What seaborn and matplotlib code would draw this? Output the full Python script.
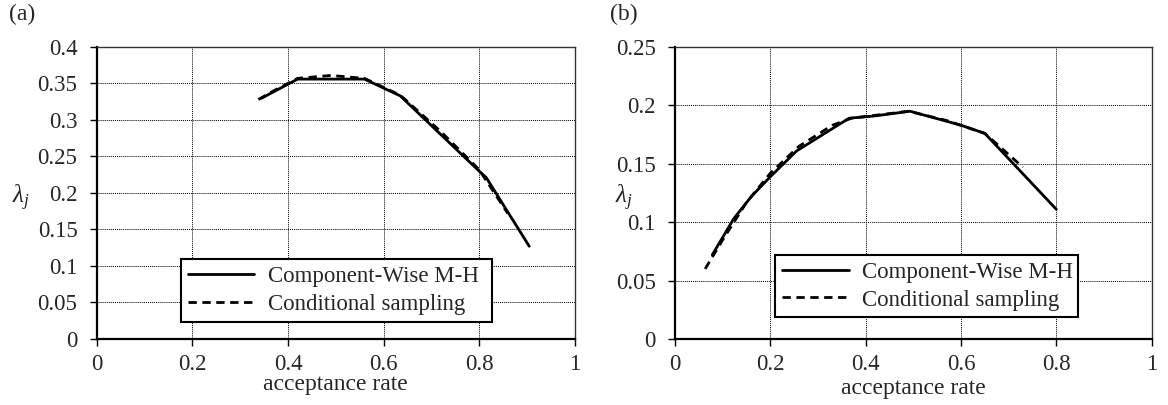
import matplotlib
matplotlib.use("Agg")
import matplotlib.pyplot as plt
import seaborn as sns
import pandas as pd

# Panel (a)
a_cw_rate = [0.345, 0.42, 0.56, 0.635, 0.80, 0.815, 0.905]
a_cw_lam = [0.330, 0.356, 0.356, 0.333, 0.230, 0.221, 0.127]
a_cs_rate = [0.338, 0.37, 0.42, 0.49, 0.56, 0.635, 0.72, 0.80, 0.86]
a_cs_lam = [0.328, 0.340, 0.357, 0.361, 0.357, 0.334, 0.284, 0.232, 0.172]

# Panel (b)
b_cw_rate = [0.078, 0.123, 0.16, 0.20, 0.255, 0.365, 0.42, 0.493, 0.60, 0.65, 0.80]
b_cw_lam = [0.072, 0.103, 0.122, 0.139, 0.161, 0.189, 0.191, 0.195, 0.183, 0.176, 0.111]
b_cs_rate = [0.063, 0.10, 0.15, 0.20, 0.26, 0.33, 0.37, 0.45, 0.49, 0.57, 0.65, 0.73]
b_cs_lam = [0.060, 0.085, 0.117, 0.142, 0.165, 0.183, 0.189, 0.193, 0.195, 0.187, 0.176, 0.147]

series_names = ["Component-Wise M-H", "Conditional sampling"]
x_ticks = [0, 0.2, 0.4, 0.6, 0.8, 1]
x_tick_labels = ["0", "0.2", "0.4", "0.6", "0.8", "1"]
a_y_ticks = [0, 0.05, 0.1, 0.15, 0.2, 0.25, 0.3, 0.35, 0.4]
a_y_tick_labels = ["0", "0.05", "0.1", "0.15", "0.2", "0.25", "0.3", "0.35", "0.4"]
b_y_ticks = [0, 0.05, 0.1, 0.15, 0.2, 0.25]
b_y_tick_labels = ["0", "0.05", "0.1", "0.15", "0.2", "0.25"]

sns.set_theme(style="white")
plt.rcParams["font.family"] = ["Liberation Serif", "DejaVu Serif"]
plt.rcParams["mathtext.fontset"] = "custom"
plt.rcParams["mathtext.it"] = "Liberation Serif:italic"
plt.rcParams["mathtext.rm"] = "Liberation Serif"

FS = 16.5
fig = plt.figure(figsize=(11.68, 4.05), dpi=100)
ax_a = fig.add_axes([0.083, 0.163, 0.409, 0.721])
ax_b = fig.add_axes([0.578, 0.163, 0.408, 0.721])


def draw_panel(ax, cw_x, cw_y, cs_x, cs_y, yticks, ylabels, ymax,
               legend_box, xlabel_pad):
    df_cw = pd.DataFrame({"rate": cw_x, "lam": cw_y})
    df_cs = pd.DataFrame({"rate": cs_x, "lam": cs_y})
    sns.lineplot(data=df_cw, x="rate", y="lam", ax=ax, color="black",
                 lw=2.0, sort=False, label=series_names[0], zorder=3)
    sns.lineplot(data=df_cs, x="rate", y="lam", ax=ax, color="black",
                 lw=2.0, sort=False, label=series_names[1], zorder=3,
                 dashes=False)
    ax.lines[1].set_linestyle((0, (3.0, 2.0)))
    ax.set_xlim(0, 1)
    ax.set_ylim(0, ymax)
    ax.set_xticks(x_ticks)
    ax.set_xticklabels(x_tick_labels)
    ax.set_yticks(yticks)
    ax.set_yticklabels(ylabels)
    ax.grid(True, color="black", linestyle=(0, (1, 1)), linewidth=0.7)
    ax.tick_params(axis="both", direction="out", length=5, width=1,
                   color="black", labelsize=FS, bottom=True, left=True)
    ax.tick_params(axis="x", pad=6)
    ax.tick_params(axis="y", pad=9)
    for side in ["left", "bottom"]:
        ax.spines[side].set_color("black")
        ax.spines[side].set_linewidth(1.6)
    for side in ["top", "right"]:
        ax.spines[side].set_color("#333333")
        ax.spines[side].set_linewidth(1.0)
    ax.set_xlabel("acceptance rate", fontsize=17, labelpad=xlabel_pad)
    ax.set_ylabel("")
    leg = ax.legend(loc="lower left", bbox_to_anchor=legend_box,
                    mode="expand", fontsize=FS, frameon=True, fancybox=False,
                    edgecolor="black", framealpha=1, handlelength=2.9,
                    borderpad=0.3, labelspacing=0.3, handletextpad=0.6,
                    borderaxespad=0)
    leg.get_frame().set_linewidth(1.5)


draw_panel(ax_a, a_cw_rate, a_cw_lam, a_cs_rate, a_cs_lam,
           a_y_ticks, a_y_tick_labels, 0.4, (0.176, 0.058, 0.652, 0.234), -1)
draw_panel(ax_b, b_cw_rate, b_cw_lam, b_cs_rate, b_cs_lam,
           b_y_ticks, b_y_tick_labels, 0.25, (0.21, 0.074, 0.635, 0.246), 2)

fig.text(0.008, 0.965, "(a)", fontsize=17, ha="left", va="center")
fig.text(0.522, 0.965, "(b)", fontsize=17, ha="left", va="center")
fig.text(0.018, 0.51, r"$\lambda_j$", fontsize=18, ha="center", va="center")
fig.text(0.534, 0.51, r"$\lambda_j$", fontsize=18, ha="center", va="center")

fig.savefig("out.png", dpi=100)
